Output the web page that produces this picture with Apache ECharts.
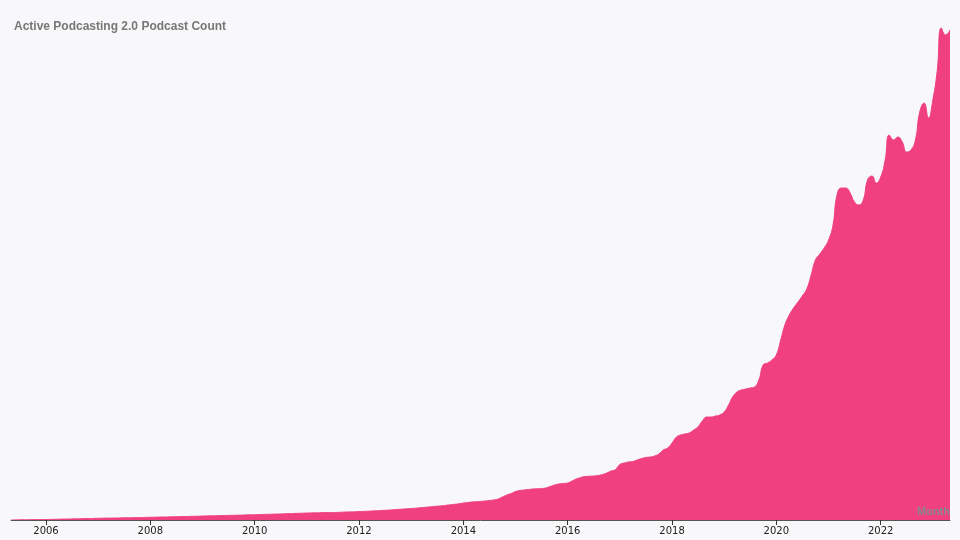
<!DOCTYPE html>
<html>
<head>
<meta charset="utf-8">
<script src="https://cdn.jsdelivr.net/npm/echarts@6/dist/echarts.min.js"></script>
<style>
html,body{margin:0;padding:0;background:#f8f8fa;}
#chart{width:960px;height:540px;}
</style>
</head>
<body>
<div id="chart"></div>
<script>
// Monthly active podcast counts, one array per year
const firstYear = 2005;
const firstMonth = 5; // data starts May 2005
const v2005 = [0, 1, 2, 3, 3, 4, 4, 5];
const v2006 = [5, 6, 7, 8, 9, 10, 11, 12, 13, 14, 15, 16];
const v2007 = [17, 18, 19, 19, 20, 21, 22, 23, 23, 24, 25, 26];
const v2008 = [27, 28, 29, 30, 31, 32, 33, 34, 35, 36, 37, 38];
const v2009 = [40, 41, 42, 43, 44, 45, 46, 47, 48, 49, 51, 52];
const v2010 = [53, 54, 56, 57, 58, 59, 61, 62, 64, 65, 67, 68];
const v2011 = [70, 71, 72, 73, 74, 75, 75, 76, 78, 80, 81, 82];
const v2012 = [84, 86, 88, 90, 92, 95, 97, 100, 103, 106, 109, 112];
const v2013 = [115, 118, 122, 126, 130, 134, 138, 142, 147, 152, 157, 162];
const v2014 = [170, 175, 180, 183, 186, 190, 195, 200, 210, 230, 250, 265];
const v2015 = [285, 295, 300, 305, 310, 312, 315, 320, 335, 350, 360, 365];
const v2016 = [370, 390, 410, 425, 435, 438, 440, 445, 455, 470, 490, 505];
const v2017 = [555, 570, 580, 585, 600, 615, 625, 630, 640, 660, 700, 720];
const v2018 = [770, 830, 850, 860, 870, 900, 930, 990, 1030, 1030, 1040, 1050];
const v2019 = [1080, 1150, 1230, 1280, 1300, 1310, 1320, 1330, 1400, 1550, 1570, 1600];
const v2020 = [1650, 1800, 1950, 2050, 2120, 2180, 2240, 2310, 2450, 2600, 2660, 2720];
const v2021 = [2800, 2950, 3250, 3320, 3320, 3270, 3180, 3150, 3200, 3400, 3440, 3370];
const v2022 = [3430, 3600, 3850, 3800, 3830, 3780, 3680, 3700, 3800, 4080, 4170, 4020];
const v2023 = [4200, 4500, 4920, 4850, 4900];

const yearly = [v2005, v2006, v2007, v2008, v2009, v2010, v2011, v2012, v2013,
  v2014, v2015, v2016, v2017, v2018, v2019, v2020, v2021, v2022, v2023];

// x-axis tick labels (years)
const tickYears = [2006, 2008, 2010, 2012, 2014, 2016, 2018, 2020, 2022];

const titleText = 'Active Podcasting 2.0 Podcast Count';
const xName = 'Month';

function ts(y, m) { return Date.UTC(y, m - 1, 1); }

const seriesData = [];
yearly.forEach(function (arr, yi) {
  const year = firstYear + yi;
  const startM = yi === 0 ? firstMonth : 1;
  arr.forEach(function (v, k) {
    seriesData.push([ts(year, startM + k), v]);
  });
});

const tickValues = tickYears.map(function (y) { return ts(y, 1); });
const xMin = seriesData[0][0];
const xMax = seriesData[seriesData.length - 1][0];

const chart = echarts.init(document.getElementById('chart'));
chart.setOption({
  backgroundColor: '#f8f8fa',
  animation: false,
  title: {
    text: titleText,
    left: 9,
    top: 16,
    textStyle: {
      fontFamily: 'Liberation Sans, Arial, sans-serif',
      fontSize: 12,
      fontWeight: 'bold',
      color: '#777777'
    }
  },
  grid: { left: 11, right: 10, top: 20, bottom: 20, containLabel: false },
  xAxis: {
    type: 'value',
    min: xMin,
    max: xMax,
    scale: true,
    z: 10,
    name: xName,
    nameLocation: 'end',
    nameGap: 0,
    nameTextStyle: {
      align: 'right',
      verticalAlign: 'bottom',
      padding: [0, 0, 3, 0],
      fontFamily: 'Liberation Sans, Arial, sans-serif',
      fontSize: 11,
      fontWeight: 'bold',
      color: '#888888'
    },
    axisLine: { show: true, lineStyle: { color: '#555555', width: 1 } },
    axisTick: { show: true, length: 5, customValues: tickValues, lineStyle: { color: '#333333' } },
    splitLine: { show: false },
    axisLabel: {
      color: '#222222',
      fontFamily: 'DejaVu Sans, sans-serif',
      fontSize: 10,
      margin: 6,
      customValues: tickValues,
      formatter: function (val) { return String(new Date(val).getUTCFullYear()); }
    }
  },
  yAxis: {
    type: 'value',
    min: 0,
    max: 5000,
    show: false,
    splitLine: { show: false }
  },
  series: [{
    type: 'line',
    data: seriesData,
    smooth: true,
    showSymbol: false,
    lineStyle: { color: '#f04080', width: 1 },
    areaStyle: { color: '#f04080', opacity: 1 },
    itemStyle: { color: '#f04080' }
  }]
});
</script>
</body>
</html>
